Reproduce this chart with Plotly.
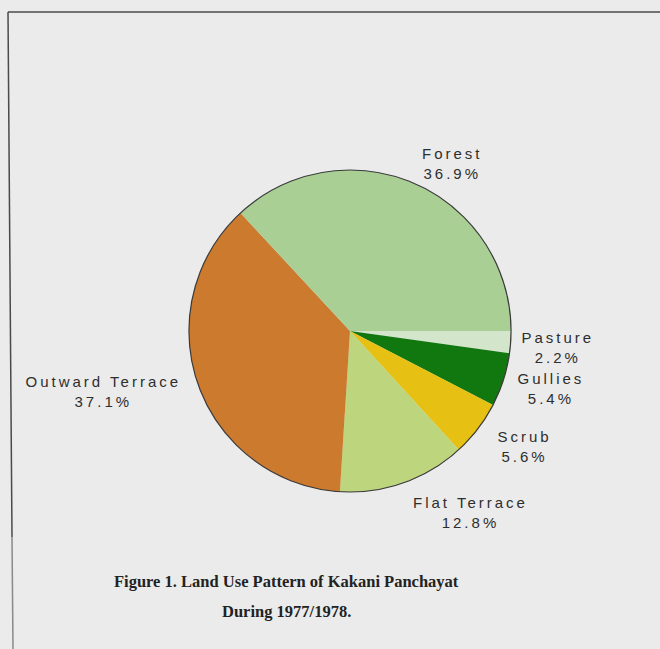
import plotly.graph_objects as go

# ---- data ----
categories = ["Forest", "Outward Terrace", "Flat Terrace", "Scrub", "Gullies", "Pasture"]
shares = [36.9, 37.1, 12.8, 5.6, 5.4, 2.2]
caption_lines = ["Figure 1. Land Use Pattern of Kakani Panchayat", "During 1977/1978."]

# ---- style ----
slice_colors = ["#a9cf95", "#cc7a2e", "#bdd57c", "#e6c012", "#10780f", "#d3e5cb"]
# label centres in pixels (x, y from top)
label_xy = [(452, 163), (104, 391), (470, 512), (524, 446), (551, 388), (558, 347)]

W, H = 660, 649
cx, cy, r = 350, 331, 161
dom_x = [(cx - r) / W, (cx + r) / W]
dom_y = [1 - (cy + r) / H, 1 - (cy - r) / H]

fig = go.Figure()
# slices drawn clockwise from 3 o'clock in reverse order == counter-clockwise from 3 o'clock in order
fig.add_trace(go.Pie(
    labels=categories[::-1], values=shares[::-1], sort=False,
    direction="clockwise", rotation=90,
    marker=dict(colors=slice_colors[::-1], line=dict(width=0)),
    textinfo="none", showlegend=False, hoverinfo="label+value",
    domain=dict(x=dom_x, y=dom_y),
))
# outline of the circle only (no separators between slices)
fig.add_trace(go.Pie(
    labels=["outline"], values=[1], sort=False,
    marker=dict(colors=["rgba(0,0,0,0)"], line=dict(color="#3a3a3a", width=1.2)),
    textinfo="none", hoverinfo="skip", showlegend=False,
    domain=dict(x=dom_x, y=dom_y),
))

for name, val, (lx, ly) in zip(categories, shares, label_xy):
    fig.add_annotation(
        text=f"{name}<br>{val:.1f}%", x=lx / W, y=1 - ly / H,
        xref="paper", yref="paper", showarrow=False, align="center",
        xanchor="center", yanchor="middle",
        font=dict(family="Liberation Sans", size=15, color="#2e2e2e"),
    )

for i, line in enumerate(caption_lines):
    fig.add_annotation(
        text="<b>" + line + "</b>", x=286 / W, y=1 - (581 + 30 * i) / H,
        xref="paper", yref="paper", showarrow=False, align="center",
        xanchor="center", yanchor="middle",
        font=dict(family="Liberation Serif", size=16.5, color="#222222"),
    )

# scanned page frame lines
fig.add_shape(type="line", xref="paper", yref="paper",
              x0=8 / W, x1=1, y0=1 - 12 / H, y1=1 - 12 / H,
              line=dict(color="#4a4a4a", width=1.5))
fig.add_shape(type="line", xref="paper", yref="paper",
              x0=8 / W, x1=12 / W, y0=1 - 12 / H, y1=1 - 537 / H,
              line=dict(color="#4a4a4a", width=1.5))
fig.add_shape(type="line", xref="paper", yref="paper",
              x0=12 / W, x1=13 / W, y0=1 - 537 / H, y1=0,
              line=dict(color="#8a8a8a", width=1.5))

fig.update_layout(
    width=W, height=H, margin=dict(l=0, r=0, t=0, b=0),
    paper_bgcolor="#ebebeb", plot_bgcolor="#ebebeb",
)

post = """
document.body.style.margin = '0';
var gd = document.getElementById('{plot_id}');
function spaceLabels() {
  document.querySelectorAll('text.annotation-text').forEach(function (t) {
    var f = t.style.fontFamily || '';
    if (f.indexOf('Liberation Sans') >= 0) { t.style.letterSpacing = '3px'; }
  });
}
spaceLabels();
setTimeout(spaceLabels, 50);
if (gd && gd.on) { gd.on('plotly_afterplot', spaceLabels); }
"""
fig.write_html("out.html", post_script=post, config={"displayModeBar": False})
